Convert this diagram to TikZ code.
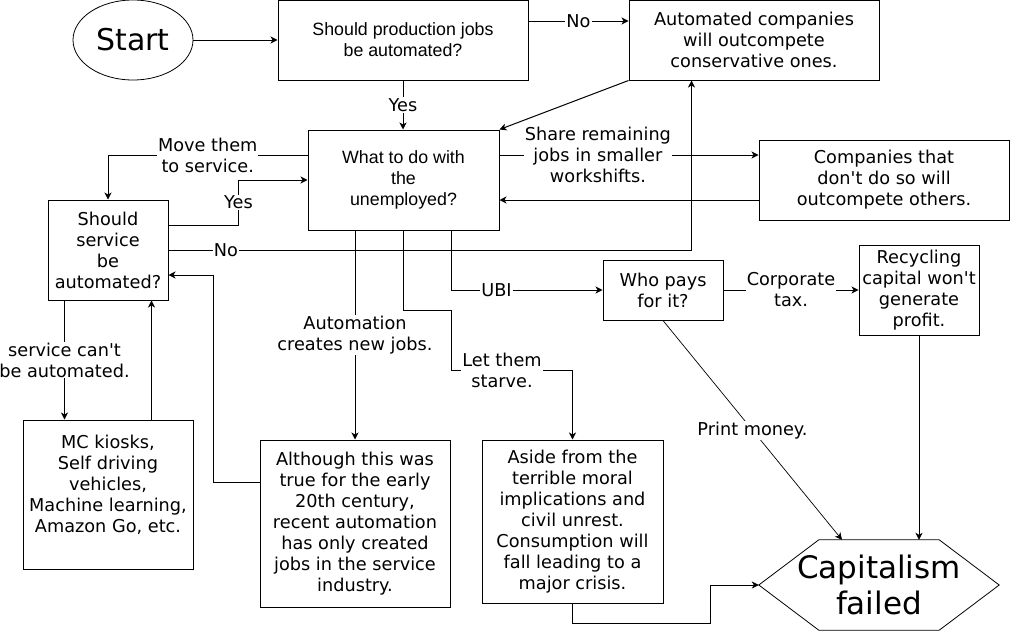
\documentclass[tikz,border=0pt]{standalone}
\usepackage{xcolor}
\usepackage{tikz}
\usepackage{fontspec}
\newfontfamily\flowfont{DejaVu Sans}
\newfontfamily\askfont{Liberation Sans}
\usetikzlibrary{arrows.meta,positioning,shapes.geometric}
\definecolor{FlowLine}{HTML}{000000}
\definecolor{PageBG}  {HTML}{FFFFFF}

\begin{document}
\begin{tikzpicture}[x=1pt,y=-1pt,
  box/.style={draw=FlowLine,line width=1pt,align=center,inner sep=2pt,font=\flowfont\fontsize{17.7}{21}\selectfont},
  qbox/.style={box,font=\askfont\fontsize{17.8}{21}\selectfont},
  lbl/.style={fill=PageBG,inner sep=1pt,align=center,font=\flowfont\fontsize{17.7}{21}\selectfont},
  arr/.style={draw=FlowLine,line width=1pt,-{Stealth[length=7pt,width=7pt,inset=2pt]}},
  link/.style={draw=FlowLine,line width=0.8pt}]
  \fill[PageBG] (0,0) rectangle (1011,632);
  \useasboundingbox (0,0) rectangle (1011,632);

  \node[draw=FlowLine,line width=0.8pt,ellipse,minimum width=120pt,minimum height=80pt,inner sep=0pt,
        font=\flowfont\fontsize{30}{36}\selectfont] (start) at (133,40) {Start};
  \node[qbox,minimum width=250pt,minimum height=80pt] (prod) at (403,40) {Should production jobs\\be automated?};
  \node[box,minimum width=250pt,minimum height=80pt] (auto) at (754,40) {Automated companies\\will outcompete\\conservative ones.};
  \node[qbox,minimum width=191pt,minimum height=100pt] (unemp) at (403.5,180) {What to do with\\the\\unemployed?};
  \node[box,minimum width=250pt,minimum height=80pt] (others) at (884,180) {Companies that\\don't do so will\\outcompete others.};
  \node[box,minimum width=120pt,minimum height=100pt] (service) at (108,250) {Should\\service\\be\\automated?};
  \node[box,minimum width=120pt,minimum height=60pt] (pays) at (663,290) {Who pays\\for it?};
  \node[box,minimum width=120pt,minimum height=90pt] (recycle) at (919,290) {Recycling\\capital won't\\generate\\profit.};
  \node[box,minimum width=170pt,minimum height=149pt] (kiosks) at (108,494.5)
    {MC kiosks,\\Self driving\\vehicles,\\Machine learning,\\Amazon Go, etc.\\\mbox{}};
  \node[box,minimum width=190pt,minimum height=167pt] (newjobs) at (355,523.5)
    {Although this was\\true for the early\\20th century,\\recent automation\\has only created\\jobs in the service\\industry.};
  \node[box,minimum width=181pt,minimum height=163pt] (starve) at (572.5,521.5)
    {Aside from the\\terrible moral\\implications and\\civil unrest.\\Consumption will\\fall leading to a\\major crisis.};
  \node[minimum width=240pt,minimum height=90pt,inner sep=0pt,align=center,
        font=\flowfont\fontsize{31}{36.5}\selectfont] (failed) at (879,585) {Capitalism\\failed};
  \draw[link] ([xshift=60pt]failed.north west) -- ([xshift=-60pt]failed.north east) -- (failed.east)
    -- ([xshift=-60pt]failed.south east) -- ([xshift=60pt]failed.south west) -- (failed.west) -- cycle;

  \coordinate (svL) at ([xshift=17pt]service.south west);
  \coordinate (svR) at ([xshift=-17pt]service.south east);

  \draw[arr] (start) -- (prod);
  \draw[arr] ([yshift=19pt]prod.east) -- node[lbl]{No} ([yshift=19pt]auto.west);
  \draw[arr] (prod.south) -- node[lbl]{Yes} (prod.south |- unemp.north);
  \draw[arr] (auto.south west) -- (unemp.north east);
  \draw[arr] ([yshift=25pt]unemp.east) -- node[lbl,pos=0.38]{Share remaining\\jobs in smaller\\workshifts.} ([yshift=25pt]others.west);
  \draw[arr] ([yshift=-20pt]others.west) -- ([yshift=-20pt]unemp.east);
  \draw[arr] ([yshift=25pt]unemp.west) -| node[lbl,pos=0.25]{Move them\\to service.} (service.north);
  \draw[arr] ([yshift=25pt]service.east) -- ++(70,0) |- node[lbl,pos=0.25]{Yes} (unemp.west);
  \draw[arr] (service.east) -| node[lbl,pos=0.055]{No} ([xshift=63pt]auto.south west);
  \draw[arr] (unemp.south -| newjobs.north) -- node[lbl]{Automation\\creates new jobs.} (newjobs.north);
  \draw[arr] (unemp.south) -- ++(0,80) -- ++(47.5,0) -- ++(0,60) -| node[lbl,pos=0.21]{Let them\\starve.} (starve.north);
  \draw[arr] ([xshift=47.5pt]unemp.south) |- node[lbl,pos=0.65]{UBI} (pays.west);
  \draw[arr] (pays.east) -- node[lbl]{Corporate\\tax.} (recycle.west);
  \draw[arr,line width=0.7pt] (pays.south) -- node[lbl]{Print money.} ([xshift=-37pt]failed.north);
  \draw[arr] (recycle.south) -- (recycle.south |- failed.north);
  \draw[arr] (starve.south) -- ++(0,20) -| ([xshift=-48pt]failed.west) -- (failed.west);
  \draw[arr] ([yshift=41pt]newjobs.west) -- ++(-46,0) |- ([yshift=-25pt]service.east);
  \draw[arr] (svL) -- node[lbl]{service can't\\be automated.} (svL |- kiosks.north);
  \draw[arr] (svR |- kiosks.north) -- (svR);
\end{tikzpicture}
\end{document}
